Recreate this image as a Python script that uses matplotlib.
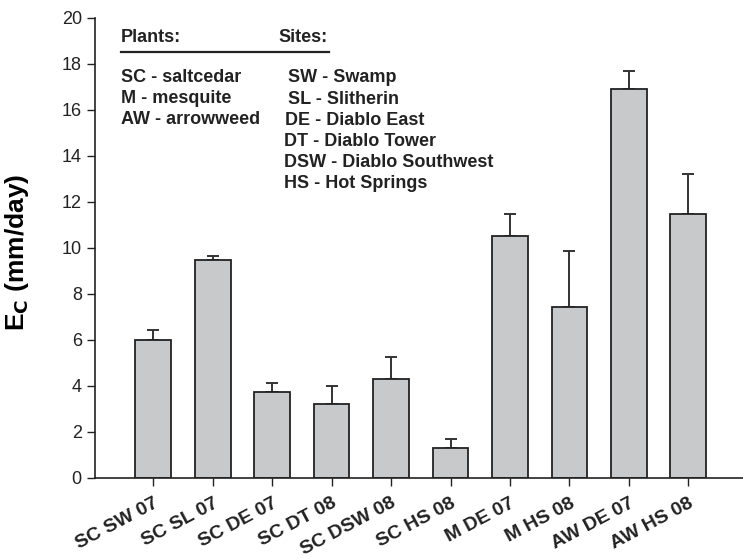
import matplotlib
matplotlib.use('Agg')
import matplotlib.pyplot as plt
import numpy as np

plt.rcParams['font.family'] = ['Liberation Sans', 'DejaVu Sans']

# data
labels = ['SC SW 07', 'SC SL 07', 'SC DE 07', 'SC DT 08', 'SC DSW 08',
          'SC HS 08', 'M DE 07', 'M HS 08', 'AW DE 07', 'AW HS 08']
ec = [6.01, 9.46, 3.75, 3.23, 4.30, 1.30, 10.53, 7.44, 16.90, 11.50]
err = [0.42, 0.18, 0.37, 0.75, 0.94, 0.39, 0.94, 2.44, 0.80, 1.70]

plants = ['SC - saltcedar', 'M - mesquite', 'AW - arrowweed']
sites = ['SW - Swamp', 'SL - Slitherin', 'DE - Diablo East', 'DT - Diablo Tower',
         'DSW - Diablo Southwest', 'HS - Hot Springs']

W, H = 743, 559
fig = plt.figure(figsize=(W / 100, H / 100), dpi=100)
ax = fig.add_axes([95 / W, 1 - 478 / H, 1 - 95 / W, (478 - 18) / H])

x = np.arange(1, len(labels) + 1)
ax.bar(x, ec, width=0.6, color='#c8c9ca', edgecolor='#222222', linewidth=1.3, zorder=2)
ax.errorbar(x, ec, yerr=[np.zeros(len(err)), err], fmt='none', ecolor='#333333',
            elinewidth=1.4, capsize=4.5, capthick=1.4, zorder=1)

ax.set_xlim(0.02, 10.92)
ax.set_ylim(0, 20)
ax.set_yticks(np.arange(0, 21, 2))
ax.set_xticks(x)
ax.set_xticklabels(labels, rotation=28, ha='right', rotation_mode='anchor',
                   fontsize=14, fontweight='bold')
ax.tick_params(axis='y', labelsize=13, length=6, width=1, direction='out', colors='#222222')
ax.tick_params(axis='x', length=6, width=1, direction='out', colors='#222222', pad=6)
for s in ['top', 'right']:
    ax.spines[s].set_visible(False)
for s in ['left', 'bottom']:
    ax.spines[s].set_linewidth(1.2)
    ax.spines[s].set_color('#222222')

ax.set_ylabel(r'E$_\mathbf{C}$ (mm/day)', fontsize=19, fontweight='bold')
ax.yaxis.set_label_coords(-0.098, 0.49)

# key text
def ft(px, py, s, **kw):
    fig.text(px / W, 1 - py / H, s, fontsize=13, fontweight='bold', va='center',
             color='#222222', **kw)

ft(121, 37, 'Plants:')
ft(278, 37, 'Sites:')
fig.add_artist(plt.Line2D([121 / W, 329 / W], [1 - 52 / H, 1 - 52 / H],
                          color='#222222', linewidth=1.6))
for i, p in enumerate(plants):
    ft(121, 78 + 21 * i, p)
site_x = [288, 288, 285, 284, 284, 284]
for i, s in enumerate(sites):
    ft(site_x[i], 78 + 21.2 * i, s)

fig.savefig('out.png', dpi=100)
